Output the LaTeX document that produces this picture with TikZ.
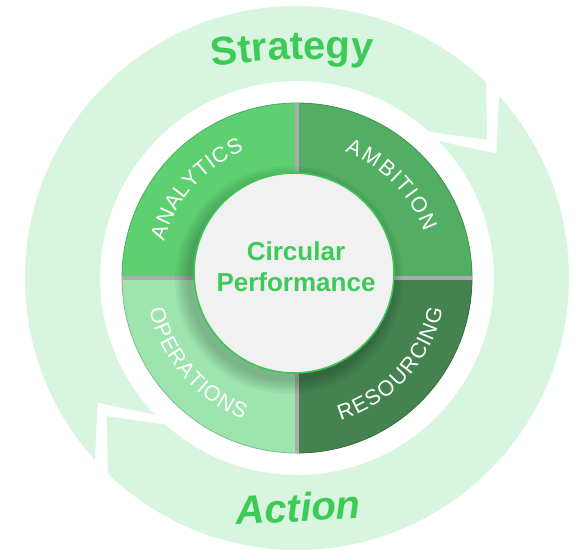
\documentclass[tikz,border=0pt]{standalone}
\usepackage{fontspec}
\setmainfont{Liberation Sans}
\usepackage{xcolor}
\usetikzlibrary{decorations.text}
\definecolor{bandgreen}{RGB}{216,245,223}
\definecolor{analytics}{RGB}{94,208,114}
\definecolor{ambition}{RGB}{82,174,98}
\definecolor{resourcing}{RGB}{68,131,80}
\definecolor{operations}{RGB}{157,228,174}
\definecolor{titlegreen}{RGB}{60,203,87}
\definecolor{rimgreen}{RGB}{61,197,86}
\definecolor{corefill}{RGB}{241,241,241}
\definecolor{divider}{RGB}{172,172,172}
\newcommand\labelfont{\fontsize{21.5}{21.5}\selectfont}
\newcommand\bigfont{\fontsize{40}{40}\selectfont\bfseries}
\tikzset{band/.style={fill=bandgreen},
 quarter/.style={fill=#1, draw=#1!82!black, line width=0.8pt},
 divline/.style={draw=divider, line width=4.5pt},
 core/.style={circle, minimum size=200pt, inner sep=0pt, fill=corefill,
   draw=rimgreen, line width=1.6pt},
 coretext/.style={align=center, text=titlegreen,
   font=\fontsize{26}{31}\selectfont\bfseries},
 ringlabel/.style={decorate, decoration={text effects along path,
   text={#1}, text effects/.cd, text along path, fit text to path,
   characters={text=white, font=\labelfont}}},
 }

\begin{document}
\begin{tikzpicture}[x=1pt, y=1pt]
        \useasboundingbox (-297,-272) rectangle (283,278);
        % outer arrows
        \fill[band] (222:272pt) arc[start angle=222, end angle=46, radius=272pt]
            -- (36:235pt) -- (48:197pt) arc[start angle=48, end angle=224, radius=197pt]
            -- (212:235pt) -- cycle;
        \fill[band] (42:272pt) arc[start angle=42, end angle=-134, radius=272pt]
            -- (-144:235pt) -- (-132:197pt) arc[start angle=-132, end angle=44, radius=197pt]
            -- (32:235pt) -- cycle;
        \path[decorate, decoration={text along path, text align=center,
            text color=titlegreen, text={|\bigfont|Strategy}}]
            ([shift={(20,-481)}]102:700pt) arc[start angle=102, end angle=82, radius=700pt];
        \node[anchor=base, rotate=3, text=titlegreen, font=\bigfont\itshape] (action)
            at (2,-243.5) {Action};
        % quarters
        \draw[quarter=analytics] (0,0) -- (180:175pt) arc[start angle=180, end angle=90, radius=175pt] -- cycle;
        \draw[quarter=ambition] (0,0) -- (90:175pt) arc[start angle=90, end angle=0, radius=175pt] -- cycle;
        \draw[quarter=resourcing] (0,0) -- (0:175pt) arc[start angle=0, end angle=-90, radius=175pt] -- cycle;
        \draw[quarter=operations] (0,0) -- (-90:175pt) arc[start angle=-90, end angle=-180, radius=175pt] -- cycle;
        \draw[divline] (0,-175) -- (0,175);
        \draw[divline] (-175,0) -- (175,0);
        \path[ringlabel=ANALYTICS] (164.5:138pt) arc[start angle=164.5, end angle=112.5, radius=138pt];
        \path[ringlabel=AMBITION] (69.3:135pt) arc[start angle=69.3, end angle=19.8, radius=135pt];
        \path[ringlabel=OPERATIONS] (192:151pt) arc[start angle=192, end angle=249.2, radius=151pt];
        \path[ringlabel=RESOURCING] (-73:149pt) arc[start angle=-73, end angle=-12, radius=149pt];
        % soft shadow under the core
        \foreach \k in {1,...,6}
            \fill[black, opacity=0.035] (-8,-2) circle[radius={99pt+\k*2.5pt}];
        \node[core] (core) at (-3,5) {};
        \node[coretext] (title) at (-1,11) {Circular\\Performance};
    \end{tikzpicture}
\end{document}
